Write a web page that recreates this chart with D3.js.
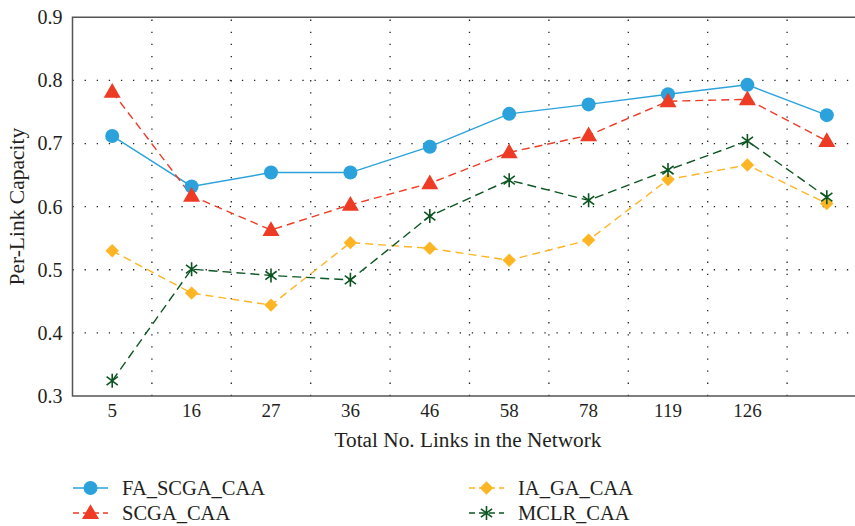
<!DOCTYPE html>
<html><head><meta charset="utf-8">
<script src="https://cdn.jsdelivr.net/npm/d3@7"></script>
<style>
html,body{margin:0;padding:0;background:#fff;}
svg text{font-family:"Liberation Serif","Times New Roman",serif;fill:#231f20;}
</style></head>
<body><svg id="c" width="855" height="526"></svg>
<script>
const categories = ["5","16","27","36","46","58","78","119","126",""];
const faScga = [0.712,0.632,0.654,0.654,0.695,0.747,0.762,0.778,0.793,0.745];
const scga   = [0.782,0.617,0.563,0.603,0.637,0.686,0.713,0.767,0.770,0.704];
const iaGa   = [0.530,0.463,0.444,0.543,0.534,0.515,0.547,0.643,0.666,0.605];
const mclr   = [0.324,0.501,0.491,0.484,0.585,0.642,0.610,0.658,0.704,0.615];
const yTicks = [0.3,0.4,0.5,0.6,0.7,0.8,0.9];
const seriesNames = ["FA_SCGA_CAA","SCGA_CAA","IA_GA_CAA","MCLR_CAA"];

const series = [
  {name:seriesNames[0], values:faScga, color:"#2ba2dc", dash:null, marker:"circle"},
  {name:seriesNames[1], values:scga, color:"#ee3b25", dash:"8,5", marker:"triangle"},
  {name:seriesNames[2], values:iaGa, color:"#fdb523", dash:"8,5", marker:"diamond"},
  {name:seriesNames[3], values:mclr, color:"#0c5520", dash:"9,5", marker:"star"}
];

const L=72.5, T=17.3, B=396, step=79.4;
const R = L + step*categories.length;
const svg = d3.select("#c");
const x = d3.scaleBand().domain(d3.range(categories.length)).range([L,R]).paddingInner(0).paddingOuter(0);
const y = d3.scaleLinear().domain([0.3,0.9]).range([B,T]);
const cx = i => x(i)+x.bandwidth()/2;

// grid
const g = svg.append("g");
g.selectAll(".hg").data(yTicks.filter(v=>v>0.3&&v<0.9)).enter().append("line")
  .attr("x1",L).attr("x2",R).attr("y1",d=>y(d)).attr("y2",d=>y(d))
  .attr("stroke","#222").attr("stroke-width",1.3).attr("stroke-dasharray","1.3,10.8");
g.selectAll(".vg").data(d3.range(1,categories.length)).enter().append("line")
  .attr("x1",d=>x(d)).attr("x2",d=>x(d)).attr("y1",B).attr("y2",T)
  .attr("stroke","#222").attr("stroke-width",1.3).attr("stroke-dasharray","1.3,10.8");

// frame
svg.append("path").attr("d",`M${R},${T}H${L}V${B}H${R}`).attr("fill","none")
  .attr("stroke","#555").attr("stroke-width",1.5);

// axes
const xa = svg.append("g").attr("transform",`translate(0,${B})`)
  .call(d3.axisBottom(x).tickSize(0).tickPadding(8).tickFormat(i=>categories[i]));
xa.select(".domain").remove();
xa.selectAll("text").attr("font-size",19).style("font-family","Liberation Serif");
const ya = svg.append("g").attr("transform",`translate(${L},0)`)
  .call(d3.axisLeft(y).tickValues(yTicks).tickSize(0).tickPadding(10).tickFormat(d3.format(".1f")));
ya.select(".domain").remove();
ya.selectAll("text").attr("font-size",20).style("font-family","Liberation Serif");

svg.append("text").attr("x",468).attr("y",447).attr("text-anchor","middle")
  .attr("font-size",21.3).text("Total No. Links in the Network");
svg.append("text").attr("transform",`translate(24,${(T+B)/2}) rotate(-90)`).attr("text-anchor","middle")
  .attr("font-size",21.5).text("Per-Link Capacity");

function drawMarker(sel, type, color){
  if(type==="circle") sel.append("circle").attr("r",7).attr("fill",color);
  else if(type==="triangle") sel.append("path").attr("d",d3.symbol(d3.symbolTriangle,125)()).attr("transform","translate(0,1)").attr("fill",color);
  else if(type==="diamond") sel.append("path").attr("d",d3.symbol(d3.symbolSquare,90)()).attr("transform","rotate(45)").attr("fill",color);
  else if(type==="star"){
    const r=7;
    const p=`M0,${-r}V${r}M${-r*0.8},${-r*0.6}L${r*0.8},${r*0.6}M${-r*0.8},${r*0.6}L${r*0.8},${-r*0.6}`;
    sel.append("path").attr("d",p).attr("stroke",color).attr("stroke-width",1.6).attr("fill","none");
  }
}

const line = d3.line().x((d,i)=>cx(i)).y(d=>y(d));
series.forEach(s=>{
  svg.append("path").datum(s.values).attr("d",line).attr("fill","none")
    .attr("stroke",s.color).attr("stroke-width",1.4).attr("stroke-dasharray",s.dash);
});
series.forEach(s=>{
  s.values.forEach((v,i)=>{
    const m = svg.append("g").attr("transform",`translate(${cx(i)},${y(v)})`);
    drawMarker(m,s.marker,s.color);
  });
});

// legend
const legPos = [[73,488],[73,513],[469,488],[469,513]];
series.forEach((s,k)=>{
  const [lx,ly]=legPos[k];
  const lg = svg.append("g").attr("transform",`translate(${lx},${ly})`);
  lg.append("line").attr("x1",0).attr("x2",35).attr("stroke",s.color).attr("stroke-width",1.4)
    .attr("stroke-dasharray",s.dash?"6,4":null);
  const m = lg.append("g").attr("transform","translate(17.5,0)");
  drawMarker(m,s.marker,s.color);
  lg.append("text").attr("x",49).attr("y",0).attr("dy","0.35em").attr("font-size",20.5).text(s.name);
});
</script></body></html>
